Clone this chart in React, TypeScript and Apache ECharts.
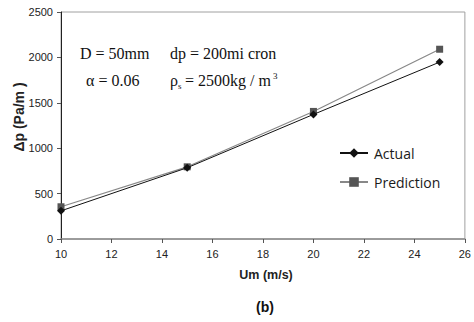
import React, { useEffect, useRef } from "react";
import * as echarts from "echarts";

const xValues = [10, 15, 20, 25];
const actual = [310, 785, 1372, 1948];
const prediction = [355, 795, 1405, 2090];

export default function App() {
  const ref = useRef<HTMLDivElement>(null);
  useEffect(() => {
    if (!ref.current) return;
    const chart = echarts.init(ref.current, null, { renderer: "svg" });
    chart.setOption({
      animation: false,
      backgroundColor: "#ffffff",
      grid: { left: 61, right: 3, top: 12, bottom: 83, show: true, borderColor: "#a0a0a0", borderWidth: 1 },
      xAxis: {
        type: "value",
        min: 10,
        max: 26,
        interval: 2,
        axisLine: { show: true, lineStyle: { color: "#8a8a8a", width: 1.5 } },
        axisTick: { show: true, inside: false, length: 4, lineStyle: { color: "#555" } },
        splitLine: { show: false },
        axisLabel: { color: "#222", fontFamily: "Liberation Sans", fontSize: 11, margin: 9 },
      },
      yAxis: {
        type: "value",
        min: 0,
        max: 2500,
        interval: 500,
        axisLine: { show: true, lineStyle: { color: "#222", width: 1 } },
        axisTick: { show: true, inside: false, length: 4, lineStyle: { color: "#555" } },
        splitLine: { show: false },
        axisLabel: {
          color: "#222",
          fontFamily: "Liberation Sans",
          fontSize: 11,
          margin: 8,
          formatter: (v: number) => String(v),
        },
      },
      legend: {
        orient: "vertical",
        left: 339,
        top: 146,
        padding: 0,
        itemWidth: 28,
        itemHeight: 12,
        itemGap: 15,
        textStyle: { color: "#1a1a1a", fontFamily: "Open Sans", fontSize: 14, padding: [0, 0, 0, 1] },
        data: ["Actual", "Prediction"],
      },
      series: [
        {
          name: "Actual",
          type: "line",
          data: xValues.map((x, i) => [x, actual[i]]),
          symbol: "diamond",
          symbolSize: 8,
          lineStyle: { color: "#111", width: 1 },
          itemStyle: { color: "#111" },
          z: 3,
        },
        {
          name: "Prediction",
          type: "line",
          data: xValues.map((x, i) => [x, prediction[i]]),
          symbol: "rect",
          symbolSize: 7,
          lineStyle: { color: "#888", width: 1.2 },
          itemStyle: { color: "#555" },
          z: 2,
        },
      ],
      graphic: [
        {
          type: "text",
          x: 19,
          y: 117,
          rotation: Math.PI / 2,
          style: {
            text: "Δp (Pa/m )",
            font: "bold 14px Liberation Sans",
            fill: "#222",
            align: "center",
            verticalAlign: "middle",
          },
        },
        {
          type: "text",
          x: 266,
          y: 275,
          style: { text: "Um (m/s)", font: "bold 12.5px Liberation Sans", fill: "#222", align: "center", verticalAlign: "middle" },
        },
        {
          type: "text",
          x: 265,
          y: 307,
          style: { text: "(b)", font: "bold 14px Liberation Sans", fill: "#111", align: "center", verticalAlign: "middle" },
        },
        {
          type: "text",
          x: 80,
          y: 53,
          style: { text: "D = 50mm", font: "16px Liberation Serif", fill: "#111", verticalAlign: "middle" },
        },
        {
          type: "text",
          x: 170,
          y: 53,
          style: { text: "dp = 200mi cron", font: "16px Liberation Serif", fill: "#111", verticalAlign: "middle" },
        },
        {
          type: "text",
          x: 86,
          y: 80,
          style: { text: "α = 0.06", font: "16px Liberation Serif", fill: "#111", verticalAlign: "middle" },
        },
        {
          type: "text",
          x: 170,
          y: 80,
          style: { text: "ρ", font: "16px Liberation Serif", fill: "#111", verticalAlign: "middle" },
        },
        {
          type: "text",
          x: 178,
          y: 86,
          style: { text: "s", font: "9px Liberation Serif", fill: "#111", verticalAlign: "middle" },
        },
        {
          type: "text",
          x: 185,
          y: 80,
          style: { text: "= 2500kg / m", font: "16px Liberation Serif", fill: "#111", verticalAlign: "middle" },
        },
        {
          type: "text",
          x: 273,
          y: 76,
          style: { text: "3", font: "9px Liberation Serif", fill: "#111", verticalAlign: "middle" },
        },
      ],
    });
    return () => chart.dispose();
  }, []);
  return <div ref={ref} style={{ position: "fixed", left: 0, top: 0, width: 474, height: 322 }} />;
}
